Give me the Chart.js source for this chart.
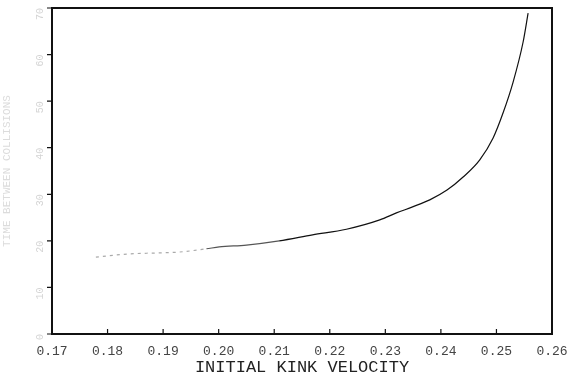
<!DOCTYPE html>
<html lang="en">
<head>
  <meta charset="UTF-8">
  <title>Initial Kink Velocity</title>
  <script src="https://cdn.jsdelivr.net/npm/chart.js"></script>
  <style>
    html, body {
      margin: 0;
      padding: 0;
      background: #fff;
    }
    #wrap {
      width: 572px;
      height: 381px;
    }
  </style>
</head>
<body>

  <div id="wrap"><canvas id="kinkChart" width="572" height="381"></canvas></div>

  <script>
    const velocity = [0.1779, 0.1839, 0.1888, 0.1929, 0.1978, 0.2001, 0.2050, 0.2109, 0.2169, 0.2230,
                      0.2290, 0.2320, 0.2349, 0.2380, 0.2411, 0.2440, 0.2470, 0.2494, 0.2512, 0.2530,
                      0.2548, 0.2557];
    const response = [16.5, 17.2, 17.4, 17.6, 18.3, 18.7, 19.1, 20.0, 21.3, 22.5,
                      24.5, 26.0, 27.3, 28.8, 30.9, 33.7, 37.4, 42.1, 47.5, 54.1,
                      62.7, 68.9];
    const xTicks = [0.17, 0.18, 0.19, 0.20, 0.21, 0.22, 0.23, 0.24, 0.25, 0.26];
    const yTicks = [0, 10, 20, 30, 40, 50, 60, 70];

    const points = velocity.map((v, i) => ({ x: v, y: response[i] }));

    // frame round the plot, ticks pointing inward on the bottom axis
    const framePlugin = {
      id: 'frame',
      afterDraw(chart) {
        const { ctx, chartArea: a, scales } = chart;
        ctx.save();
        ctx.strokeStyle = '#111';
        ctx.lineWidth = 2;
        ctx.strokeRect(a.left, a.top, a.right - a.left, a.bottom - a.top);
        ctx.lineWidth = 1.2;
        ctx.beginPath();
        xTicks.forEach(t => {
          const px = scales.x.getPixelForValue(t);
          ctx.moveTo(px, a.bottom);
          ctx.lineTo(px, a.bottom - 5);
        });
        yTicks.forEach(t => {
          const py = scales.y.getPixelForValue(t);
          ctx.moveTo(a.left, py);
          ctx.lineTo(a.left - 5, py);
        });
        ctx.stroke();
        ctx.restore();
      }
    };

    const ctx = document.getElementById('kinkChart').getContext('2d');
    new Chart(ctx, {
      type: 'scatter',
      data: {
        datasets: [{
          data: points,
          showLine: true,
          borderColor: '#111',
          borderWidth: 1.2,
          pointRadius: 0,
          cubicInterpolationMode: 'monotone',
          segment: {
            // the low-velocity end is printed faint and broken
            borderColor: c => c.p0.parsed.x < 0.193 ? '#aaa' : (c.p0.parsed.x < 0.21 ? '#555' : undefined),
            borderDash: c => c.p0.parsed.x < 0.193 ? [3, 4] : undefined
          }
        }]
      },
      options: {
        responsive: false,
        animation: false,
        layout: { padding: { top: 8, right: 20, left: 0, bottom: 0 } },
        plugins: {
          legend: { display: false },
          tooltip: { enabled: false }
        },
        scales: {
          x: {
            type: 'linear',
            min: 0.17,
            max: 0.26,
            afterBuildTicks: s => { s.ticks = xTicks.map(v => ({ value: v })); },
            afterFit: s => { s.height = 47; s.paddingLeft = 0; s.paddingRight = 0; },
            grid: { display: false, drawTicks: false },
            border: { display: false },
            ticks: {
              padding: 10,
              maxRotation: 0,
              color: '#444',
              font: { family: 'Liberation Mono', size: 13 },
              callback: v => v.toFixed(2)
            },
            title: {
              display: true,
              text: 'INITIAL KINK VELOCITY',
              color: '#222',
              padding: { top: 0, bottom: 3 },
              font: { family: 'Liberation Mono', size: 17 }
            }
          },
          y: {
            type: 'linear',
            min: 0,
            max: 70,
            afterBuildTicks: s => { s.ticks = yTicks.map(v => ({ value: v })); },
            afterFit: s => { s.width = 52; s.paddingTop = 0; s.paddingBottom = 0; },
            grid: { display: false, drawTicks: false },
            border: { display: false },
            ticks: {
              padding: 12,
              minRotation: 90,
              maxRotation: 90,
              color: '#d4d4d4',
              font: { family: 'Liberation Mono', size: 10 }
            },
            title: {
              display: true,
              text: 'TIME BETWEEN COLLISIONS',
              color: '#dcdcdc',
              padding: { top: 0, bottom: 0 },
              font: { family: 'Liberation Mono', size: 11 }
            }
          }
        }
      },
      plugins: [framePlugin]
    });
  </script>

</body>
</html>
